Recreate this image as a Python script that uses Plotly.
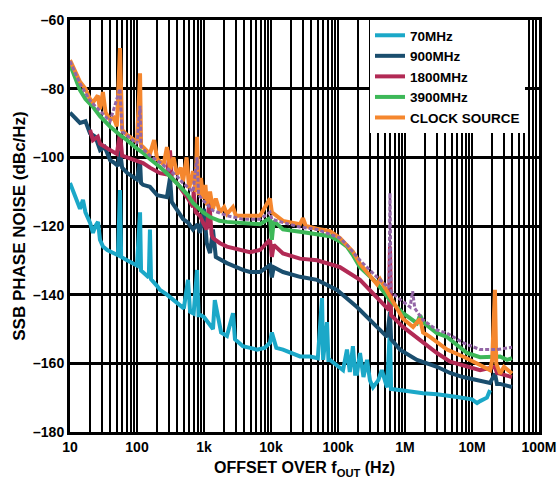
import plotly.graph_objects as go

# ---------------- data ----------------
f_70 = [10, 11.9, 14.1, 15.6, 17, 19.9, 22, 24, 26.2, 28, 31.1, 36, 45, 52, 55.7, 58, 71, 87, 100, 111, 115,
        123, 150, 156, 162, 200, 220, 280, 311, 400, 500, 577, 620, 700, 787, 830, 900, 1000, 1200, 1362, 1450,
        1800, 2200, 2711, 2900, 3800, 4860, 6180, 8000, 9660, 10300, 12000, 15100, 20000, 27100, 38200, 50000,
        57700, 60000, 68500, 72000, 76000, 100000, 119000, 136000, 150000, 167000, 180000, 192000, 213000,
        240000, 271000, 300000, 333000, 400000, 450000, 539000, 597000, 620000, 760000, 1000000, 1860000,
        3000000, 6000000, 10000000, 11900000, 13200000, 16700000, 18600000]
db_70 = [-107.5, -111, -115, -112.4, -116, -119, -122, -120, -118.8, -124, -126, -127, -128, -128.5, -109.5,
         -129, -130, -131, -131.5, -116, -133, -133.5, -135, -121, -135.5, -137.5, -138.6, -140, -140.7, -142.5,
         -144, -135.7, -145, -145.5, -132.8, -146, -146, -146.5, -148.5, -150, -141.6, -151, -152, -145.4, -153,
         -155, -155.5, -156, -155.5, -154, -151, -155.5, -156, -157, -158, -158, -158.5, -141, -159, -148, -159,
         -159, -161, -162, -156, -162.5, -155, -163, -163, -157, -164, -159, -165, -167, -164.9, -162, -167,
         -149.5, -167.5, -167.8, -168, -168.7, -169, -169.8, -170.5, -171.6, -171, -170, -167.8]

f_900 = [10, 14.1, 17, 19.9, 24, 28.1, 33, 39.6, 45, 52, 55.7, 60, 71, 87, 100, 111, 115, 123, 156, 200, 280,
         311, 330, 396, 486, 577, 685, 800, 871, 1000, 1100, 1230, 1360, 1500, 2200, 3800, 4860, 6860, 9660,
         10300, 11000, 15100, 27100, 48600, 96600, 192000, 333000, 539000, 597000, 620000, 842000, 1510000,
         3000000, 4700000, 7340000, 13200000, 18600000, 22000000, 23600000, 26200000, 39500000]
db_900 = [-87, -90, -89.5, -93, -94, -97.9, -97, -100.8, -101.5, -102.5, -98, -103, -104.5, -105.7, -106.5,
          -101, -107.5, -108, -108.6, -111, -111.6, -106, -113, -115.3, -118, -119, -121, -119.5, -122, -115,
          -125, -127.9, -121, -129, -130.8, -132.8, -133.4, -133.4, -131.4, -135, -132, -133.4, -134.8, -135.7,
          -138.6, -143.6, -148.3, -152.3, -145, -153, -156, -159, -161, -162.8, -164, -164.9, -165.7, -163,
          -166, -166, -166.9]

f_1800 = [19.9, 22, 26, 28, 39.6, 50, 55.7, 60, 71, 100, 123, 156, 220, 280, 311, 330, 396, 486, 577, 685,
          700, 750, 871, 966, 1100, 1200, 1300, 1360, 1733, 2200, 3800, 4860, 6860, 9660, 10300, 11000, 15100,
          27100, 48600, 107000, 213000, 382000, 577000, 597000, 620000, 934000, 1860000, 3000000, 4700000,
          7340000, 13200000, 22000000, 23600000, 39500000]
db_1800 = [-92, -95, -94, -96, -97.9, -99, -93, -99.5, -100, -101, -101.7, -103, -104.6, -105, -98, -106,
           -107.5, -110, -112, -114.5, -110, -116, -117, -119, -121, -113, -122.5, -123.5, -125, -126, -127,
           -127.6, -127, -124, -129, -125.5, -128, -129.5, -130, -132, -135.7, -140.7, -144.5, -126, -146,
           -149.4, -154, -157, -159.5, -160.5, -162, -161, -162.8, -164]

f_3900 = [10, 11.9, 14.1, 17, 22, 28, 39.6, 55.7, 71, 100, 123, 156, 220, 311, 396, 577, 685, 966, 1230, 1700,
          2200, 3800, 6860, 9660, 10300, 11000, 15100, 27100, 48600, 76000, 107000, 136000, 167000, 213000,
          382000, 597000, 934000, 1510000, 1680000, 1860000, 3000000, 4240000, 8420000, 13200000, 26200000,
          33300000, 39500000]
db_3900 = [-73, -77, -80.4, -83, -85.3, -88, -91, -93.5, -95, -97.5, -98.7, -100.5, -102.8, -105.5, -107.5,
           -111, -113.3, -116, -117.4, -118.5, -118.8, -119, -119.5, -117.7, -124, -118.5, -121, -121.7, -122.6,
           -123, -124.5, -126, -128.5, -132, -136.6, -141.6, -145.4, -148.3, -146, -148, -151.2, -152.3, -157,
           -158.2, -158, -159, -158.5]

f_clk = [10, 11.9, 14.1, 17, 19.9, 22, 26, 28, 31, 34, 39.6, 45, 50, 55.7, 60, 71, 87, 100, 111, 115, 123,
         140, 156, 180, 200, 250, 280, 311, 350, 396, 450, 486, 550, 600, 685, 750, 787, 830, 900, 966, 1050,
         1110, 1230, 1360, 1500, 1733, 2000, 2200, 2700, 3000, 3800, 6860, 9660, 10300, 15100, 27100, 30000,
         33000, 48600, 76000, 107000, 136000, 167000, 213000, 271000, 382000, 424000, 597000, 662000, 934000,
         1320000, 1680000, 1860000, 2360000, 4240000, 7340000, 13200000, 18600000, 20000000, 22000000,
         23000000, 26200000, 30000000, 39500000]
db_clk = [-71.7, -75, -78, -80, -83, -84, -82, -86, -81, -87, -89, -88.5, -91, -68.2, -92, -93.5, -94.5,
          -95.5, -75.5, -96.5, -97, -98, -99, -95, -100.5, -102, -97, -103.5, -100, -105, -103, -107, -100, -109,
          -104, -110, -94, -111, -106, -112, -108, -114, -110, -115, -112, -116, -114.5, -116.5, -114.5, -117,
          -117, -117, -112, -116, -118.5, -119.5, -117.7, -120, -120.8, -121.5, -123.5, -125.5, -127.5, -131,
          -133.5, -137, -135.5, -140.7, -142, -147, -149.4, -147, -151, -152.3, -156, -158, -160.5, -162, -159,
          -138.6, -160, -163, -161, -163]

f_ref = [10, 14.1, 19.9, 28, 39.6, 55.7, 60, 100, 111, 115, 156, 220, 311, 396, 486, 685, 787, 830, 966, 1360,
         2200, 3800, 6860, 9660, 10300, 15100, 27100, 48600, 107000, 136000, 213000, 382000, 577000, 597000,
         620000, 760000, 1190000, 1300000, 1400000, 1860000, 3000000, 4240000, 7340000, 13200000, 23600000,
         39500000]
db_ref = [-72, -78.5, -83.5, -86.5, -89.5, -80, -92.5, -96, -85, -97, -99.5, -101.5, -104, -105.5, -107.5, -110,
          -100, -111, -112.5, -115.5, -117, -118, -118, -116, -118, -119, -120.3, -121, -123.5, -125.5, -130,
          -134.9, -138, -110.4, -139, -140.7, -143.6, -139, -144, -147.4, -150.3, -151.2, -154, -156, -156,
          -155.3]

x_tickvals = [10, 100, 1e3, 1e4, 1e5, 1e6, 1e7, 1e8]
x_ticktext = ["10", "100", "1k", "10k", "100k", "1M", "10M", "100M"]
y_tickvals = [-180, -160, -140, -120, -100, -80, -60]
y_ticktext = ["–180", "–160", "–140", "–120", "–100", "–80", "–60"]

FONT = "Liberation Sans"
series = [
    ("70MHz", f_70, db_70, "#1BA8C8", None, True),
    ("900MHz", f_900, db_900, "#1A4E6E", None, True),
    ("1800MHz", f_1800, db_1800, "#B22A55", None, True),
    ("3900MHz", f_3900, db_3900, "#3DB858", None, True),
    ("CLOCK SOURCE", f_clk, db_clk, "#F5872E", None, True),
    ("REF", f_ref, db_ref, "#9366A6", "4px,2px", False),
]

fig = go.Figure()
for name, fx, fy, col, dash, leg in series:
    fig.add_trace(go.Scatter(
        x=fx, y=fy, mode="lines", name=name, showlegend=leg,
        line=dict(color=col, width=4 if dash is None else 3, dash=dash or "solid"),
    ))

minor_vals = [m * d for d in x_tickvals[:-1] for m in range(2, 10)]

# body margin is removed by the post script, so the figure fills the whole window
W, H = 557, 487
L, T, R, B = 70, 20, 18, 55
fig.update_layout(
    width=W, height=H,
    margin=dict(l=L, r=R, t=T, b=B, autoexpand=False),
    paper_bgcolor="white", plot_bgcolor="white",
    font=dict(family=FONT, size=14, color="black", weight="bold"),
    legend=dict(x=(370 - L) / (W - L - R), y=1, xanchor="left", yanchor="top", bgcolor="white",
                borderwidth=0, font=dict(family=FONT, size=13.5, weight="bold"),
                tracegroupgap=0),
)
fig.update_xaxes(
    type="log", range=[1, 8], automargin=False,
    tickmode="array", tickvals=x_tickvals, ticktext=x_ticktext,
    showgrid=True, gridcolor="black", gridwidth=2,
    minor=dict(tickmode="array", tickvals=minor_vals, showgrid=True, gridcolor="black", gridwidth=2, ticks=""),
    showline=True, linecolor="black", linewidth=3, mirror=True, ticks="",
    tickfont=dict(family=FONT, size=14, weight="bold"),
    title=dict(text="OFFSET OVER f<sub>OUT</sub> (Hz)", font=dict(family=FONT, size=16, weight="bold"), standoff=9),
    zeroline=False,
)
fig.update_yaxes(
    range=[-180, -60], automargin=False,
    tickmode="array", tickvals=y_tickvals, ticktext=y_ticktext,
    showgrid=True, gridcolor="black", gridwidth=2.5,
    showline=True, linecolor="black", linewidth=3, mirror=True, ticks="",
    tickfont=dict(family=FONT, size=14, weight="bold"),
    title=dict(text="SSB PHASE NOISE (dBc/Hz)", font=dict(family=FONT, size=17, weight="bold"), standoff=4),
    zeroline=False,
)

fig.write_html(
    "out.html",
    config={"displayModeBar": False},
    post_script="document.body.style.margin='0';document.body.style.overflow='hidden';"
                "document.documentElement.style.overflow='hidden';",
)
